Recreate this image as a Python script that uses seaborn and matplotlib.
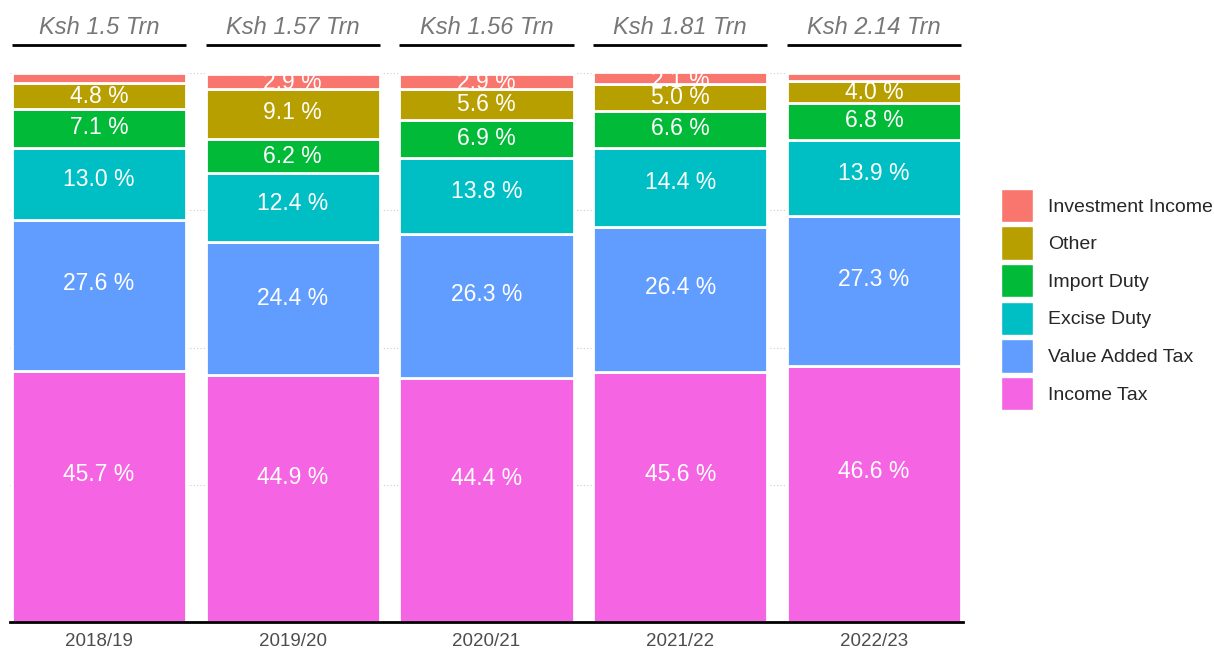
import numpy as np
import pandas as pd
import matplotlib
matplotlib.use("Agg")
import matplotlib.pyplot as plt
import matplotlib.transforms as mtransforms
from matplotlib.patches import Patch
import seaborn as sns

# --- data (shares of revenue, %) ---
years = ["2018/19", "2019/20", "2020/21", "2021/22", "2022/23"]
totals = ["Ksh 1.5 Trn", "Ksh 1.57 Trn", "Ksh 1.56 Trn", "Ksh 1.81 Trn", "Ksh 2.14 Trn"]

# stacked from bottom to top
categories = ["Income Tax", "Value Added Tax", "Excise Duty", "Import Duty", "Other", "Investment Income"]
income_tax = [45.7, 44.9, 44.4, 45.6, 46.6]
vat = [27.6, 24.4, 26.3, 26.4, 27.3]
excise = [13.0, 12.4, 13.8, 14.4, 13.9]
import_duty = [7.1, 6.2, 6.9, 6.6, 6.8]
other = [4.8, 9.1, 5.6, 5.0, 4.0]
investment = [1.8, 2.9, 2.9, 2.1, 1.4]

colors = ["#F564E3", "#619CFF", "#00BFC4", "#00BA38", "#B79F00", "#F8766D"]

series = [income_tax, vat, excise, import_duty, other, investment]

sns.set_theme(style="white")
plt.rcParams['font.family'] = ['Liberation Sans', 'DejaVu Sans']

fig = plt.figure(figsize=(12.14, 6.49), dpi=100)
ax = fig.add_axes([10 / 1214, 27 / 649, 953 / 1214, 549 / 649])

# dotted grid behind the bars
for g in [25, 50, 75, 100]:
    ax.axhline(g, color="#cccccc", linestyle=(0, (1, 2)), linewidth=0.8, zorder=0)

bottom = np.zeros(len(years))
for cat, vals, col in zip(categories, series, colors):
    vals = np.array(vals)
    sns.barplot(x=years, y=vals, bottom=bottom, color=col, width=0.9, saturation=1,
                edgecolor="white", linewidth=2, ax=ax, zorder=2)
    # segment labels (placed a bit above the middle, small shares skipped)
    for i, v in enumerate(vals):
        if v >= 2.0:
            ax.text(i, bottom[i] + 0.6 * v - 0.55, f"{v:.1f} %", ha="center", va="center",
                    color="white", fontsize=16.5, clip_on=True, zorder=3)
    bottom = bottom + vals

ax.set_xlim(-0.46, 4.46)
ax.set_ylim(0, 100)
ax.set_yticks([])
ax.set_xlabel("")
ax.set_ylabel("")
for s in ["top", "left", "right"]:
    ax.spines[s].set_visible(False)
ax.spines["bottom"].set_color("black")
ax.spines["bottom"].set_linewidth(2)
ax.spines["bottom"].set_zorder(5)
ax.tick_params(axis="x", length=0, labelsize=13.5, labelcolor="#4d4d4d", pad=8)

# total labels over each bar with underline
trans = mtransforms.blended_transform_factory(ax.transData, ax.transAxes)
for i, t in enumerate(totals):
    ax.text(i, 1 + 45 / 549, t, transform=trans, ha="center", va="center",
            fontsize=17, style="italic", color="#777777")
    ax.plot([i - 0.45, i + 0.45], [1 + 28 / 549] * 2, transform=trans,
            color="black", linewidth=2, clip_on=False, solid_capstyle="butt")

# legend, top entry = top of stack
handles = [Patch(facecolor=c, edgecolor="white", label=l)
           for l, c in zip(categories[::-1], colors[::-1])]
fig.legend(handles=handles, loc="center left", bbox_to_anchor=(1001 / 1214, 1 - 299.5 / 649),
           frameon=False, fontsize=14, handlelength=1.65, handleheight=2.26,
           labelspacing=0.22, handletextpad=0.75, borderaxespad=0, borderpad=0)

fig.savefig("out.png", dpi=100)
